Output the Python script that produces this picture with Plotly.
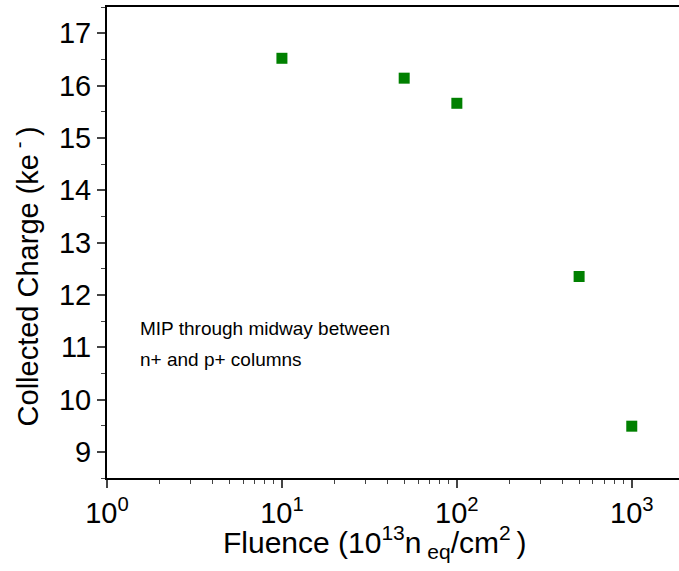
import plotly.graph_objects as go

# Data
fluence = [10, 50, 100, 500, 1000]
charge = [16.52, 16.14, 15.66, 12.35, 9.49]

x_tickvals = [1, 10, 100, 1000]
x_ticktext = ["10<sup>0</sup>", "10<sup>1</sup>", "10<sup>2</sup>", "10<sup>3</sup>"]
y_tickvals = [9, 10, 11, 12, 13, 14, 15, 16, 17]

note_lines = ["MIP through midway between", "n+ and p+ columns"]
x_title = "Fluence (10<sup>13</sup>n<sub>\u00a0eq</sub>/cm<sup>2\u00a0</sup>)"
y_title = "Collected Charge (ke<sup>\u00a0-\u00a0</sup>)"

fig = go.Figure()
fig.add_trace(go.Scatter(
    x=fluence, y=charge, mode="markers",
    marker=dict(symbol="square", size=11, color="#008000"),
    showlegend=False
))

# annotation text, one line each (the reference has loose line spacing)
for line, yv in zip(note_lines, [11.36, 10.76]):
    fig.add_annotation(
        x=0.18, y=yv, xref="x", yref="y", text=line,
        showarrow=False, xanchor="left", yanchor="middle",
        font=dict(size=19, color="black")
    )

# axis titles as annotations so they can sit off-centre like the original
fig.add_annotation(
    x=0.4685, y=-0.1355, xref="paper", yref="paper", text=x_title,
    showarrow=False, xanchor="center", yanchor="middle",
    font=dict(size=30, color="black")
)
fig.add_annotation(
    x=-0.1416, y=0.428, xref="paper", yref="paper", text=y_title,
    textangle=-90, showarrow=False, xanchor="center", yanchor="middle",
    font=dict(size=29, color="black")
)

fig.update_layout(
    width=679, height=571,
    margin=dict(l=107, r=0, t=7, b=93),
    paper_bgcolor="white", plot_bgcolor="white",
    font=dict(family="Liberation Sans, Arial, sans-serif", color="black"),
    xaxis=dict(
        type="log", range=[0, 3.27], automargin=False,
        tickvals=x_tickvals, ticktext=x_ticktext,
        ticks="outside", ticklen=8, tickwidth=1.5,
        minor=dict(ticks="outside", ticklen=4, tickwidth=1.2, dtick="D1"),
        showline=True, linewidth=2, linecolor="black", mirror=True,
        showgrid=False, zeroline=False,
        tickfont=dict(size=29),
    ),
    yaxis=dict(
        range=[8.5, 17.5], automargin=False,
        tickvals=y_tickvals,
        ticks="outside", ticklen=8, tickwidth=1.5,
        minor=dict(ticks="outside", ticklen=4, tickwidth=1.2, dtick=0.5),
        showline=True, linewidth=2, linecolor="black",
        showgrid=False, zeroline=False,
        tickfont=dict(size=29),
    ),
)

fig.write_html("out.html", config={"displayModeBar": False},
               post_script="document.body.style.margin='0';")
